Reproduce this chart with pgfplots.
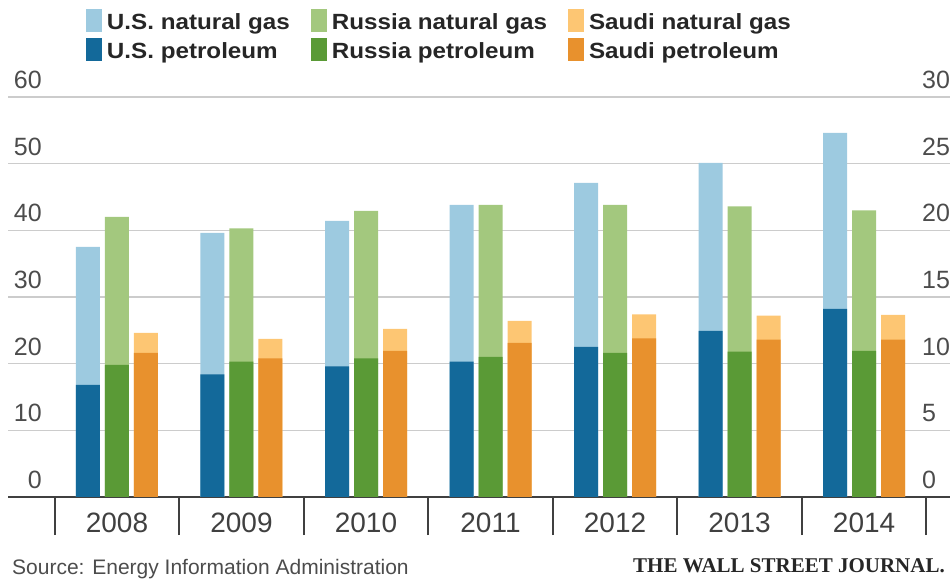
\documentclass[border=0pt]{standalone}
\usepackage{fontspec}
\setmainfont{Liberation Sans}
\newfontfamily\legfont{Liberation Sans}[FakeStretch=1.1]
\newfontfamily\wsjfont{Liberation Serif}
\usepackage{pgfplots}
\pgfplotsset{compat=1.18}
\definecolor{usgas}{HTML}{9DCAE0}
\definecolor{uspet}{HTML}{13699A}
\definecolor{rugas}{HTML}{A3C87E}
\definecolor{rupet}{HTML}{5A9A36}
\definecolor{sagas}{HTML}{FDC673}
\definecolor{sapet}{HTML}{E8912D}
\pgfplotsset{swatch/.style={legend image code/.code={\fill[##1] (0bp,-11bp) rectangle (16bp,12bp);}}}
\begin{document}
\begin{tikzpicture}
\useasboundingbox (0,0) rectangle (952bp,580bp);
\begin{axis}[
  at={(8bp,83bp)}, anchor=south west,
  width=942bp, height=400bp, scale only axis,
  xmin=-0.875, xmax=6.69, ymin=0, ymax=60,
  ybar, bar width=24bp,
  axis x line*=bottom, axis y line*=left,
  x axis line style={-, line width=2bp, color=black!75},
  y axis line style={draw=none},
  major tick length=0pt,
  xtick={0,1,2,3,4,5,6},
  xticklabels={2008,2009,2010,2011,2012,2013,2014},
  xticklabel style={font=\fontsize{28bp}{28bp}\selectfont, text=black!75, anchor=base, inner sep=0pt, yshift=-36bp},
  extra x ticks={-0.5,0.5,1.5,2.5,3.5,4.5,5.5,6.5},
  extra x tick labels={},
  extra x tick style={major tick length=38bp, tick align=outside, tick style={line width=2bp, color=black!75}},
  ytick={0,10,20,30,40,50,60},
  yticklabel style={font=\fontsize{25bp}{25bp}\selectfont, text=black!70, anchor=south east, inner sep=0pt, xshift=34bp, yshift=8bp},
  /pgf/number format/assume math mode=true,
  ymajorgrids, grid style={line width=1.5bp, color=black!20},
  legend columns=3,
  legend cell align=left,
  legend style={at={(axis description cs:0.0828,1.22)}, anchor=north west, draw=none, fill=none, inner sep=0pt, outer sep=0pt,
    font=\legfont\bfseries\fontsize{22bp}{22bp}\selectfont, text=black!85,
    nodes={inner sep=0pt, text height=21bp, text depth=3bp},
    row sep=5bp,
    /tikz/every odd column/.append style={column sep=5bp},
    /tikz/every even column/.append style={column sep=21bp}},
]
\addplot[fill=usgas, draw=none, bar shift=-29bp, swatch] coordinates {(0,37.5) (1,39.6) (2,41.4) (3,43.8) (4,47.1) (5,50.1) (6,54.6)};
\addplot[fill=rugas, draw=none, bar shift=0bp, swatch] coordinates {(0,42.0) (1,40.3) (2,42.9) (3,43.8) (4,43.8) (5,43.6) (6,43.0)};
\addplot[fill=sagas, draw=none, bar shift=29bp, swatch] coordinates {(0,24.6) (1,23.7) (2,25.2) (3,26.4) (4,27.4) (5,27.2) (6,27.3)};
\addplot[fill=uspet, draw=none, bar shift=-29bp, swatch] coordinates {(0,16.8) (1,18.4) (2,19.6) (3,20.3) (4,22.5) (5,24.9) (6,28.2)};
\addplot[fill=rupet, draw=none, bar shift=0bp, swatch] coordinates {(0,19.8) (1,20.3) (2,20.8) (3,21.0) (4,21.6) (5,21.8) (6,21.9)};
\addplot[fill=sapet, draw=none, bar shift=29bp, swatch] coordinates {(0,21.6) (1,20.8) (2,21.9) (3,23.1) (4,23.8) (5,23.6) (6,23.6)};
\legend{U.S. natural gas, Russia natural gas, Saudi natural gas, U.S. petroleum, Russia petroleum, Saudi petroleum}
\end{axis}
\begin{axis}[
  at={(8bp,83bp)}, anchor=south west,
  width=942bp, height=400bp, scale only axis,
  xmin=-0.875, xmax=6.69, ymin=0, ymax=30,
  hide x axis, axis y line*=right,
  y axis line style={draw=none},
  major tick length=0pt,
  ytick={0,5,10,15,20,25,30},
  yticklabel style={font=\fontsize{25bp}{25bp}\selectfont, text=black!70, anchor=south west, inner sep=0pt, xshift=-28bp, yshift=8bp},
  /pgf/number format/assume math mode=true,
]
\addplot[draw=none, forget plot] coordinates {(0,0)};
\end{axis}
\node[anchor=base west, inner sep=0pt, font=\fontsize{21bp}{21bp}\selectfont, text=black!70] at (12bp,6bp) {Source: Energy Information Administration};
\node[anchor=base east, inner sep=0pt, font=\wsjfont\bfseries\fontsize{21bp}{21bp}\selectfont, text=black!85] at (945bp,8bp) {THE WALL STREET JOURNAL.};
\end{tikzpicture}
\end{document}
